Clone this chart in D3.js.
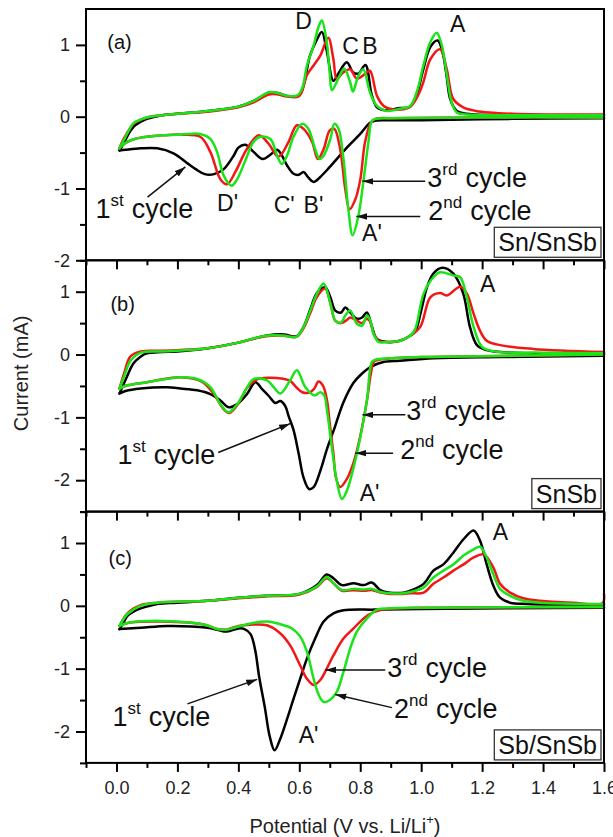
<!DOCTYPE html>
<html>
<head>
<meta charset="utf-8">
<script src="https://cdn.jsdelivr.net/npm/d3@7"></script>
<style>
  body { margin: 0; background: #fff; }
  svg { display: block; font-family: "Liberation Sans", Arial, sans-serif; }
  .tick text { font-size: 18px; fill: #222; }
</style>
</head>
<body>
<div id="chart"></div>
<script>
"use strict";

// ---- data: [potential (V), current (mA)] ----
// panel (a) Sn/SnSb
const aBlackCath = [[1.6,-0.02],[1.3,-0.03],[1.0,-0.05],[0.88,-0.05],[0.845,-0.06],[0.83,-0.09],[0.80,-0.24],[0.756,-0.43],[0.70,-0.70],[0.669,-0.84],[0.647,-0.91],[0.63,-0.85],[0.614,-0.77],[0.598,-0.81],[0.58,-0.79],[0.56,-0.68],[0.543,-0.54],[0.527,-0.46],[0.505,-0.53],[0.48,-0.59],[0.45,-0.49],[0.423,-0.39],[0.40,-0.43],[0.385,-0.54],[0.352,-0.73],[0.32,-0.80],[0.29,-0.80],[0.26,-0.73],[0.233,-0.65],[0.187,-0.51],[0.134,-0.44],[0.08,-0.44],[0.03,-0.46],[0.01,-0.47]];
const aBlackAnod = [[0.01,-0.47],[0.025,-0.36],[0.04,-0.24],[0.056,-0.14],[0.08,-0.07],[0.10,-0.03],[0.15,0.02],[0.2,0.04],[0.3,0.08],[0.4,0.14],[0.45,0.22],[0.50,0.33],[0.53,0.33],[0.56,0.29],[0.6,0.30],[0.615,0.45],[0.635,0.85],[0.655,1.05],[0.674,1.18],[0.69,0.92],[0.712,0.50],[0.728,0.60],[0.756,0.76],[0.776,0.62],[0.794,0.60],[0.817,0.72],[0.838,0.30],[0.855,0.13],[0.88,0.09],[0.93,0.12],[0.964,0.14],[0.986,0.32],[1.007,0.66],[1.03,0.97],[1.054,1.06],[1.07,0.90],[1.084,0.55],[1.095,0.25],[1.117,0.08],[1.15,0.04],[1.3,0.02],[1.6,0.02]];
const aRedCath = [[1.6,-0.01],[1.2,-0.01],[0.9,-0.02],[0.85,-0.03],[0.835,-0.08],[0.816,-0.35],[0.80,-0.88],[0.784,-1.15],[0.765,-1.29],[0.751,-1.01],[0.734,-0.45],[0.715,-0.17],[0.70,-0.19],[0.68,-0.45],[0.661,-0.59],[0.642,-0.35],[0.614,-0.17],[0.592,-0.12],[0.565,-0.35],[0.538,-0.54],[0.527,-0.55],[0.50,-0.38],[0.467,-0.26],[0.428,-0.45],[0.39,-0.77],[0.363,-0.94],[0.341,-0.87],[0.308,-0.49],[0.275,-0.28],[0.21,-0.25],[0.15,-0.26],[0.10,-0.28],[0.06,-0.31],[0.036,-0.35],[0.013,-0.42],[0.01,-0.44]];
const aRedAnod = [[0.01,-0.44],[0.02,-0.34],[0.036,-0.22],[0.056,-0.10],[0.08,-0.04],[0.10,-0.01],[0.15,0.02],[0.2,0.04],[0.3,0.07],[0.4,0.13],[0.45,0.20],[0.50,0.31],[0.53,0.31],[0.56,0.28],[0.6,0.29],[0.625,0.58],[0.648,0.72],[0.669,0.85],[0.695,1.10],[0.712,0.80],[0.723,0.53],[0.745,0.62],[0.767,0.66],[0.789,0.53],[0.817,0.60],[0.832,0.64],[0.855,0.29],[0.877,0.15],[0.91,0.10],[0.964,0.14],[0.99,0.30],[1.007,0.48],[1.03,0.80],[1.062,0.94],[1.084,0.66],[1.105,0.25],[1.138,0.13],[1.18,0.08],[1.3,0.04],[1.6,0.03]];
const aGreenCath = [[1.6,-0.01],[1.2,-0.01],[0.9,-0.02],[0.85,-0.03],[0.838,-0.06],[0.827,-0.35],[0.811,-0.88],[0.794,-1.38],[0.775,-1.65],[0.761,-1.29],[0.745,-0.59],[0.729,-0.17],[0.715,-0.10],[0.702,-0.31],[0.68,-0.54],[0.667,-0.59],[0.652,-0.45],[0.63,-0.17],[0.609,-0.10],[0.581,-0.28],[0.56,-0.54],[0.543,-0.66],[0.527,-0.54],[0.505,-0.31],[0.472,-0.28],[0.45,-0.35],[0.423,-0.61],[0.396,-0.87],[0.378,-0.96],[0.352,-0.82],[0.33,-0.49],[0.308,-0.31],[0.275,-0.24],[0.21,-0.25],[0.15,-0.26],[0.10,-0.28],[0.06,-0.31],[0.036,-0.35],[0.013,-0.42],[0.01,-0.44]];
const aGreenAnod = [[0.01,-0.44],[0.02,-0.36],[0.036,-0.23],[0.056,-0.09],[0.08,-0.04],[0.10,-0.01],[0.15,0.02],[0.2,0.04],[0.3,0.08],[0.4,0.14],[0.45,0.22],[0.50,0.34],[0.53,0.33],[0.56,0.29],[0.595,0.30],[0.61,0.40],[0.625,0.71],[0.647,0.99],[0.663,1.25],[0.674,1.34],[0.69,1.04],[0.70,0.60],[0.707,0.37],[0.728,0.53],[0.747,0.67],[0.767,0.48],[0.776,0.35],[0.794,0.57],[0.81,0.66],[0.832,0.34],[0.855,0.15],[0.888,0.08],[0.93,0.11],[0.964,0.15],[0.986,0.35],[1.007,0.71],[1.03,1.04],[1.051,1.17],[1.068,0.99],[1.084,0.58],[1.10,0.20],[1.117,0.06],[1.15,0.03],[1.3,0.02],[1.6,0.02]];

// panel (b) SnSb
const bBlackCath = [[1.6,-0.02],[1.26,-0.04],[1.04,-0.06],[0.93,-0.10],[0.876,-0.12],[0.833,-0.20],[0.80,-0.33],[0.778,-0.45],[0.745,-0.76],[0.712,-1.22],[0.691,-1.50],[0.669,-1.85],[0.647,-2.11],[0.632,-2.14],[0.614,-1.96],[0.598,-1.58],[0.581,-1.20],[0.565,-0.98],[0.554,-0.82],[0.538,-0.74],[0.521,-0.77],[0.50,-0.66],[0.478,-0.55],[0.456,-0.44],[0.428,-0.63],[0.396,-0.79],[0.368,-0.84],[0.341,-0.73],[0.308,-0.63],[0.265,-0.57],[0.21,-0.54],[0.167,-0.52],[0.079,-0.54],[0.03,-0.58],[0.01,-0.62]];
const bBlackAnod = [[0.01,-0.62],[0.03,-0.40],[0.056,-0.14],[0.08,-0.03],[0.10,0.02],[0.15,0.04],[0.2,0.05],[0.3,0.10],[0.4,0.19],[0.49,0.30],[0.55,0.32],[0.59,0.29],[0.614,0.44],[0.636,0.72],[0.658,0.98],[0.685,1.07],[0.702,0.91],[0.718,0.70],[0.737,0.67],[0.751,0.75],[0.767,0.67],[0.789,0.57],[0.806,0.59],[0.822,0.67],[0.838,0.45],[0.855,0.25],[0.888,0.20],[0.93,0.22],[0.964,0.30],[0.98,0.36],[1.0,0.70],[1.019,1.07],[1.04,1.29],[1.07,1.38],[1.105,1.29],[1.138,0.97],[1.16,0.44],[1.183,0.15],[1.215,0.07],[1.26,0.04],[1.4,0.02],[1.6,0.02]];
const bRedCath = [[1.6,0.0],[1.3,-0.02],[1.0,-0.04],[0.9,-0.06],[0.855,-0.09],[0.844,-0.12],[0.835,-0.30],[0.822,-0.73],[0.80,-1.30],[0.778,-1.72],[0.756,-1.98],[0.734,-2.11],[0.72,-1.95],[0.712,-1.58],[0.70,-1.10],[0.691,-0.73],[0.678,-0.50],[0.663,-0.43],[0.648,-0.55],[0.63,-0.61],[0.61,-0.60],[0.59,-0.52],[0.57,-0.42],[0.54,-0.38],[0.50,-0.37],[0.46,-0.40],[0.43,-0.52],[0.40,-0.78],[0.37,-0.93],[0.35,-0.86],[0.32,-0.63],[0.28,-0.43],[0.21,-0.36],[0.10,-0.44],[0.036,-0.49],[0.01,-0.54]];
const bRedAnod = [[0.01,-0.54],[0.025,-0.30],[0.046,-0.03],[0.08,0.05],[0.15,0.06],[0.2,0.07],[0.3,0.10],[0.4,0.19],[0.49,0.29],[0.55,0.30],[0.59,0.28],[0.614,0.42],[0.636,0.66],[0.658,0.92],[0.685,1.05],[0.702,0.82],[0.718,0.54],[0.737,0.50],[0.756,0.55],[0.767,0.59],[0.789,0.54],[0.806,0.50],[0.822,0.57],[0.833,0.52],[0.844,0.33],[0.86,0.22],[0.888,0.20],[0.93,0.22],[0.964,0.30],[0.997,0.44],[1.03,0.91],[1.062,0.98],[1.084,0.94],[1.128,1.08],[1.15,0.97],[1.172,0.65],[1.193,0.38],[1.215,0.22],[1.259,0.15],[1.367,0.09],[1.6,0.04]];
const bGreenCath = [[1.6,0.0],[1.3,-0.02],[1.0,-0.04],[0.9,-0.06],[0.85,-0.08],[0.838,-0.12],[0.822,-0.73],[0.80,-1.32],[0.778,-1.80],[0.756,-2.17],[0.74,-2.30],[0.723,-2.01],[0.707,-1.48],[0.691,-0.89],[0.682,-0.65],[0.669,-0.60],[0.65,-0.65],[0.62,-0.52],[0.592,-0.25],[0.57,-0.41],[0.538,-0.62],[0.516,-0.52],[0.494,-0.41],[0.45,-0.39],[0.423,-0.57],[0.396,-0.79],[0.368,-0.92],[0.341,-0.79],[0.308,-0.52],[0.265,-0.39],[0.21,-0.36],[0.10,-0.44],[0.036,-0.49],[0.01,-0.54]];
const bGreenAnod = [[0.01,-0.54],[0.025,-0.35],[0.046,-0.10],[0.08,0.03],[0.15,0.05],[0.2,0.06],[0.3,0.10],[0.4,0.19],[0.49,0.30],[0.55,0.30],[0.59,0.28],[0.614,0.44],[0.636,0.70],[0.658,0.97],[0.68,1.13],[0.702,0.81],[0.718,0.54],[0.737,0.51],[0.751,0.62],[0.767,0.70],[0.789,0.49],[0.806,0.46],[0.822,0.62],[0.833,0.54],[0.844,0.33],[0.86,0.20],[0.888,0.20],[0.93,0.22],[0.964,0.30],[0.98,0.40],[1.008,0.97],[1.04,1.23],[1.062,1.31],[1.105,1.26],[1.128,1.23],[1.15,0.91],[1.172,0.44],[1.20,0.12],[1.24,0.05],[1.4,0.03],[1.6,0.02]];

// panel (c) Sb/SnSb
const cBlackCath = [[1.6,-0.03],[1.0,-0.05],[0.85,-0.06],[0.745,-0.07],[0.712,-0.12],[0.68,-0.25],[0.652,-0.52],[0.625,-0.84],[0.603,-1.16],[0.581,-1.48],[0.56,-1.80],[0.538,-2.11],[0.519,-2.30],[0.503,-2.08],[0.487,-1.62],[0.468,-1.12],[0.455,-0.70],[0.44,-0.45],[0.42,-0.37],[0.40,-0.36],[0.363,-0.41],[0.33,-0.38],[0.30,-0.35],[0.167,-0.32],[0.08,-0.35],[0.01,-0.37]];
const cBlackAnod = [[0.01,-0.37],[0.025,-0.25],[0.036,-0.16],[0.06,-0.08],[0.08,-0.04],[0.134,0.03],[0.2,0.05],[0.3,0.08],[0.4,0.13],[0.49,0.16],[0.6,0.19],[0.658,0.33],[0.69,0.50],[0.712,0.44],[0.74,0.33],[0.778,0.36],[0.811,0.33],[0.838,0.37],[0.866,0.25],[0.898,0.21],[0.942,0.21],[0.964,0.24],[1.008,0.35],[1.04,0.56],[1.073,0.66],[1.106,0.85],[1.139,1.06],[1.172,1.20],[1.193,1.04],[1.215,0.66],[1.237,0.32],[1.259,0.13],[1.292,0.05],[1.35,0.03],[1.6,0.02]];
const cRedCath = [[1.6,-0.02],[1.0,-0.03],[0.888,-0.05],[0.844,-0.10],[0.811,-0.20],[0.778,-0.36],[0.745,-0.52],[0.712,-0.79],[0.69,-1.00],[0.669,-1.18],[0.647,-1.26],[0.625,-1.16],[0.603,-0.95],[0.57,-0.63],[0.538,-0.44],[0.494,-0.31],[0.44,-0.30],[0.40,-0.32],[0.36,-0.38],[0.33,-0.37],[0.29,-0.30],[0.15,-0.25],[0.04,-0.27],[0.01,-0.32]];
const cRedAnod = [[0.01,-0.32],[0.036,-0.12],[0.079,0.01],[0.134,0.05],[0.3,0.08],[0.4,0.12],[0.49,0.15],[0.6,0.18],[0.658,0.30],[0.69,0.44],[0.712,0.36],[0.74,0.24],[0.778,0.25],[0.811,0.24],[0.838,0.25],[0.866,0.21],[0.898,0.19],[0.942,0.19],[0.964,0.20],[1.008,0.21],[1.04,0.35],[1.073,0.45],[1.106,0.56],[1.139,0.66],[1.172,0.77],[1.205,0.82],[1.237,0.61],[1.259,0.35],[1.292,0.21],[1.335,0.12],[1.39,0.08],[1.5,0.05],[1.595,0.04],[1.6,0.19]];
const cGreenCath = [[1.6,-0.02],[1.0,-0.03],[0.9,-0.04],[0.855,-0.06],[0.822,-0.20],[0.789,-0.41],[0.767,-0.68],[0.745,-1.05],[0.723,-1.37],[0.70,-1.50],[0.68,-1.53],[0.664,-1.42],[0.647,-1.16],[0.625,-0.73],[0.603,-0.49],[0.576,-0.36],[0.549,-0.31],[0.494,-0.25],[0.44,-0.28],[0.40,-0.33],[0.36,-0.38],[0.33,-0.37],[0.29,-0.30],[0.15,-0.24],[0.04,-0.27],[0.01,-0.32]];
const cGreenAnod = [[0.01,-0.32],[0.036,-0.13],[0.079,0.0],[0.134,0.05],[0.3,0.08],[0.4,0.13],[0.49,0.16],[0.6,0.19],[0.658,0.31],[0.69,0.46],[0.712,0.36],[0.74,0.25],[0.778,0.27],[0.811,0.26],[0.838,0.27],[0.866,0.22],[0.898,0.20],[0.942,0.20],[0.964,0.22],[1.008,0.29],[1.04,0.45],[1.073,0.56],[1.106,0.66],[1.139,0.80],[1.172,0.90],[1.193,0.94],[1.215,0.77],[1.237,0.50],[1.259,0.27],[1.292,0.16],[1.335,0.08],[1.39,0.05],[1.6,0.03]];

// ticks
const xMajor = [0, 0.2, 0.4, 0.6, 0.8, 1.0, 1.2, 1.4, 1.6];
const xMinor = [-0.1, 0.1, 0.3, 0.5, 0.7, 0.9, 1.1, 1.3, 1.5];
const yMajor = [-2, -1, 0, 1];
const yMinorA = [-1.5, -0.5, 0.5];
const yMinorBC = [-2.5, -1.5, -0.5, 0.5, 1.5];

// text placed in data coordinates of each panel
const peakLabelsA = [
  { t: "D", v: 0.587, i: 1.22 }, { t: "C", v: 0.741, i: 0.87 }, { t: "B", v: 0.807, i: 0.87 },
  { t: "A", v: 1.095, i: 1.18 }, { t: "D'", v: 0.33, i: -1.32 }, { t: "C'", v: 0.516, i: -1.345 },
  { t: "B'", v: 0.614, i: -1.345 }, { t: "A'", v: 0.806, i: -1.73 }
];
const peakLabelsB = [{ t: "A", v: 1.193, i: 0.99 }, { t: "A'", v: 0.798, i: -2.33 }];
const peakLabelsC = [{ t: "A", v: 1.235, i: 1.04 }, { t: "A'", v: 0.598, i: -2.19 }];

const cycleNotesA = [
  { num: "1", sup: "st", v: -0.069, i: -1.41, from: [0.102, -1.12], to: [0.226, -0.70] },
  { num: "3", sup: "rd", v: 1.02, i: -0.98, from: [1.013, -0.90], to: [0.807, -0.90] },
  { num: "2", sup: "nd", v: 1.023, i: -1.44, from: [0.997, -1.39], to: [0.787, -1.39] }
];
const cycleNotesB = [
  { num: "1", sup: "st", v: 0.003, i: -1.75, from: [0.334, -1.56], to: [0.570, -1.10] },
  { num: "3", sup: "rd", v: 0.951, i: -1.04, from: [0.948, -0.96], to: [0.807, -0.96] },
  { num: "2", sup: "nd", v: 0.931, i: -1.66, from: [0.908, -1.57], to: [0.784, -1.57] }
];
const cycleNotesC = [
  { num: "1", sup: "st", v: -0.013, i: -1.91, from: [0.233, -1.56], to: [0.462, -1.17] },
  { num: "3", sup: "rd", v: 0.889, i: -1.13, from: [0.882, -1.02], to: [0.685, -1.02] },
  { num: "2", sup: "nd", v: 0.911, i: -1.79, from: [0.904, -1.62], to: [0.718, -1.41] }
];

const colors = { first: "#000000", second: "#f21616", third: "#18e418" };

const panels = [
  { tag: "(a)", tagPos: [-0.03, 0.94], name: "Sn/SnSb", yDomain: [-2, 1.5], yMinor: yMinorA,
    cycles: [[aBlackCath, aBlackAnod, colors.first], [aRedCath, aRedAnod, colors.second], [aGreenCath, aGreenAnod, colors.third]],
    peaks: peakLabelsA, notes: cycleNotesA },
  { tag: "(b)", tagPos: [-0.02, 0.69], name: "SnSb", yDomain: [-2.5, 1.5], yMinor: yMinorBC,
    cycles: [[bBlackCath, bBlackAnod, colors.first], [bRedCath, bRedAnod, colors.second], [bGreenCath, bGreenAnod, colors.third]],
    peaks: peakLabelsB, notes: cycleNotesB },
  { tag: "(c)", tagPos: [-0.026, 0.65], name: "Sb/SnSb", yDomain: [-2.5, 1.5], yMinor: yMinorBC,
    cycles: [[cBlackCath, cBlackAnod, colors.first], [cRedCath, cRedAnod, colors.second], [cGreenCath, cGreenAnod, colors.third]],
    peaks: peakLabelsC, notes: cycleNotesC }
];

// ---- layout ----
const width = 613;
const height = 837;
const plotLeft = 86;
const plotRight = 604;
const plotTop = 9;
const panelH = 251.3;

const svg = d3.select("#chart")
  .append("svg")
    .attr("width", width)
    .attr("height", height);

svg.append("defs")
  .append("marker")
    .attr("id", "arrow")
    .attr("viewBox", "0 0 10 6")
    .attr("refX", 10)
    .attr("refY", 3)
    .attr("markerWidth", 11)
    .attr("markerHeight", 7)
    .attr("markerUnits", "userSpaceOnUse")
    .attr("orient", "auto")
  .append("path")
    .attr("d", "M0,0L10,3L0,6Z")
    .attr("fill", "#111");

const xScale = d3.scaleLinear()
  .domain([-0.1, 1.6])
  .range([plotLeft, plotRight]);

panels.forEach((p, k) => {
  const y0 = plotTop + k * panelH;
  const yScale = d3.scaleLinear()
    .domain(p.yDomain)
    .range([y0 + panelH, y0]);

  const g = svg.append("g");

  const lineGenerator = d3.line()
    .x(d => xScale(d[0]))
    .y(d => yScale(d[1]))
    .curve(d3.curveCatmullRom.alpha(0.5));

  // curves: black first, red, then green on top
  p.cycles.forEach(([cath, anod, color]) => {
    [cath, anod].forEach(branch => {
      g.append("path")
        .attr("d", lineGenerator(branch))
        .attr("fill", "none")
        .attr("stroke", color)
        .attr("stroke-width", 2.5)
        .attr("stroke-linejoin", "round")
        .attr("stroke-linecap", "round");
    });
  });

  // axes
  const yAxis = d3.axisLeft(yScale).tickValues(yMajor).tickSize(10).tickPadding(6).tickFormat(d => d);
  const yAxisMinor = d3.axisLeft(yScale).tickValues(p.yMinor).tickSize(6).tickFormat("");
  const xAxis = d3.axisBottom(xScale).tickValues(xMajor).tickSize(9).tickPadding(9)
    .tickFormat(k === 2 ? d3.format(".1f") : "");
  const xAxisMinor = d3.axisBottom(xScale).tickValues(xMinor).tickSize(5).tickFormat("");

  [[yAxis, `translate(${plotLeft},0)`], [yAxisMinor, `translate(${plotLeft},0)`],
   [xAxis, `translate(0,${y0 + panelH})`], [xAxisMinor, `translate(0,${y0 + panelH})`]]
    .forEach(([axis, tr]) => {
      const a = g.append("g").attr("transform", tr).call(axis);
      a.select(".domain").remove();
      a.selectAll("line").attr("stroke", "#000").attr("stroke-width", 2);
      a.selectAll("text").attr("font-family", null);
    });

  g.append("rect")
    .attr("x", plotLeft)
    .attr("y", y0)
    .attr("width", plotRight - plotLeft)
    .attr("height", panelH)
    .attr("fill", "none")
    .attr("stroke", "#000")
    .attr("stroke-width", 2);

  // panel tag
  g.append("text")
    .attr("x", xScale(p.tagPos[0]))
    .attr("y", yScale(p.tagPos[1]))
    .attr("font-size", 20)
    .attr("fill", "#111")
    .text(p.tag);

  // peak letters
  g.selectAll("text.peak")
    .data(p.peaks)
    .join("text")
      .attr("class", "peak")
      .attr("x", d => xScale(d.v))
      .attr("y", d => yScale(d.i))
      .attr("font-size", 23)
      .attr("fill", "#111")
      .text(d => d.t);

  // cycle notes with arrows
  p.notes.forEach(d => {
    const t = g.append("text")
      .attr("x", xScale(d.v))
      .attr("y", yScale(d.i))
      .attr("font-size", 27)
      .attr("fill", "#111");
    t.append("tspan").text(d.num);
    t.append("tspan").attr("font-size", 17).attr("dy", -12).text(d.sup);
    t.append("tspan").attr("dy", 12).attr("dx", 8).text("cycle");

    g.append("line")
      .attr("x1", xScale(d.from[0]))
      .attr("y1", yScale(d.from[1]))
      .attr("x2", xScale(d.to[0]))
      .attr("y2", yScale(d.to[1]))
      .attr("stroke", "#111")
      .attr("stroke-width", 1.5)
      .attr("marker-end", "url(#arrow)");
  });

  // sample name in a box, bottom right
  const label = g.append("text")
    .attr("x", plotRight - 7)
    .attr("y", y0 + panelH - 9)
    .attr("text-anchor", "end")
    .attr("font-size", 25)
    .attr("fill", "#111")
    .text(p.name);
  const bb = label.node().getBBox();
  g.insert("rect", () => label.node())
    .attr("x", bb.x - 4)
    .attr("y", bb.y - 1)
    .attr("width", bb.width + 8)
    .attr("height", bb.height + 2)
    .attr("fill", "#fff")
    .attr("stroke", "#333")
    .attr("stroke-width", 1.3);
});

// axis titles
svg.append("text")
  .attr("transform", `translate(28, ${plotTop + 1.45 * panelH}) rotate(-90)`)
  .attr("text-anchor", "middle")
  .attr("font-size", 20)
  .attr("fill", "#222")
  .text("Current (mA)");

const xTitle = svg.append("text")
  .attr("x", (plotLeft + plotRight) / 2)
  .attr("y", 833)
  .attr("text-anchor", "middle")
  .attr("font-size", 20)
  .attr("fill", "#222");
xTitle.append("tspan").text("Potential (V vs. Li/Li");
xTitle.append("tspan").attr("font-size", 13).attr("dy", -9).text("+");
xTitle.append("tspan").attr("dy", 9).text(")");
</script>
</body>
</html>
